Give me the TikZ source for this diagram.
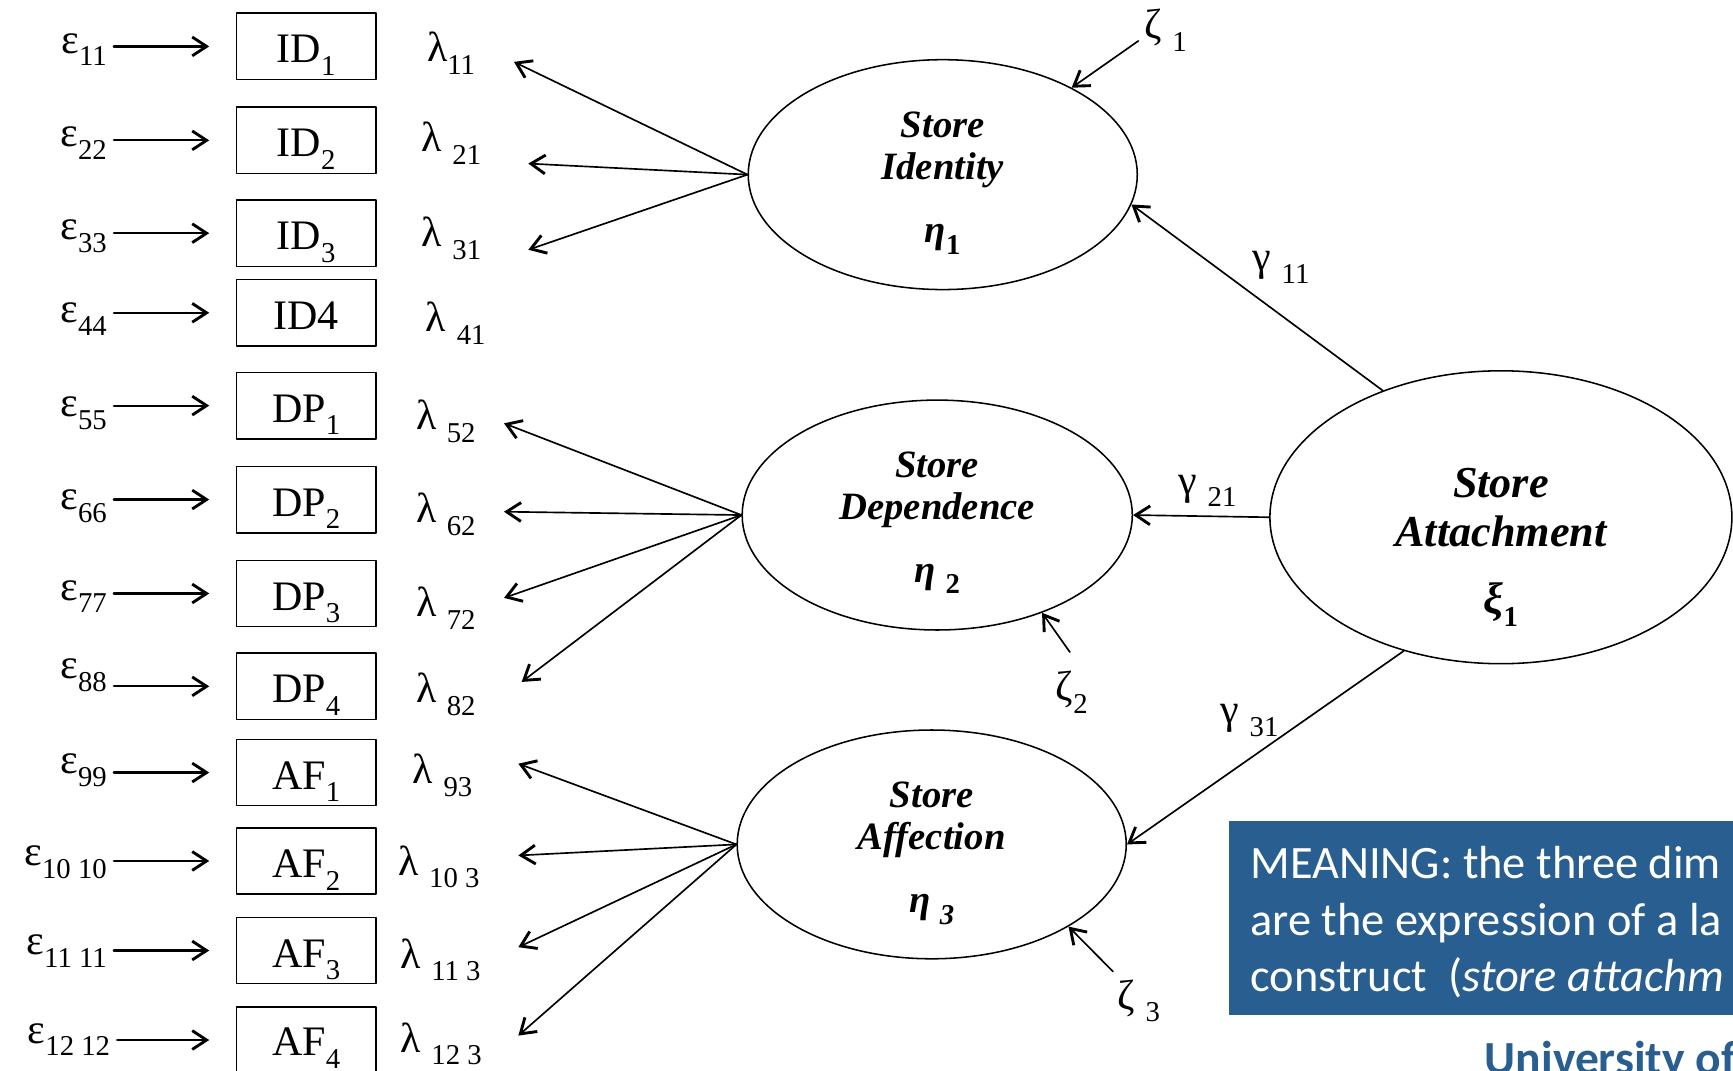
\documentclass[tikz,border=0pt]{standalone}
\usepackage{fontspec}
\setmainfont{Liberation Serif}
\newfontfamily\calibri{Carlito}
\usetikzlibrary{shapes.geometric,arrows.meta}
\definecolor{noteblue}{RGB}{41,94,145}
\newcommand{\lsub}[1]{\raisebox{-0.3em}{\fontsize{13}{13}\selectfont #1}}

\begin{document}
\begin{tikzpicture}[x=0.5pt, y=-0.5pt, line join=round, line cap=round,
      every node/.style={font=\fontsize{19}{21}\selectfont},
      arr/.style={-{Straight Barb[length=6.5pt,width=8.5pt,line width=1.3pt]}, line width=0.75pt},
      errarr/.style={arr, line width=1pt, shorten >=12pt},
      obs/.style={draw, line width=0.7pt, minimum width=63pt, minimum height=30pt, inner sep=0pt, text height=15pt, text depth=0pt},
      lat/.style={draw, ellipse, line width=0.7pt, inner sep=0pt},
      lattext/.style={align=center, inner sep=0pt, font=\bfseries\itshape\fontsize{17.5}{19}\selectfont},
      err/.style={anchor=base east, inner sep=3pt},
      coef/.style={anchor=base west, inner sep=0pt}]
      \useasboundingbox (0,0) rectangle (1568,969);
      \clip (0,0) rectangle (1568,969);
      \fill[white] (0,0) rectangle (1568,969);

      \node[obs] (id1) at (277,42) {ID\lsub{1}};
      \node[obs] (id2) at (277,127) {ID\lsub{2}};
      \node[obs] (id3) at (277,211) {ID\lsub{3}};
      \node[obs] (id4) at (277,283) {ID4};
      \node[obs] (dp1) at (277,367) {DP\lsub{1}};
      \node[obs] (dp2) at (277,452) {DP\lsub{2}};
      \node[obs] (dp3) at (277,537) {DP\lsub{3}};
      \node[obs] (dp4) at (277,621) {DP\lsub{4}};
      \node[obs] (af1) at (277,699) {AF\lsub{1}};
      \node[obs] (af2) at (277,779) {AF\lsub{2}};
      \node[obs] (af3) at (277,860) {AF\lsub{3}};
      \node[obs, text height=14pt] (af4) at (277,941) {AF\lsub{4}};

      \node[err] (e1) at (103,48) {ε\lsub{11}};
      \node[err] (e2) at (103,133) {ε\lsub{22}};
      \node[err] (e3) at (103,217) {ε\lsub{33}};
      \node[err] (e4) at (103,292) {ε\lsub{44}};
      \node[err] (e5) at (103,377) {ε\lsub{55}};
      \node[err] (e6) at (103,461) {ε\lsub{66}};
      \node[err] (e7) at (103,543) {ε\lsub{77}};
      \node[err] (e8) at (103,614) {ε\lsub{88}};
      \node[err] (e9) at (103,700) {ε\lsub{99}};
      \node[err] (e10) at (103,783) {ε\lsub{10 10}};
      \node[err] (e11) at (103,864) {ε\lsub{11 11}};
      \node[err] (e12) at (106,944) {ε\lsub{12 12}};

      \draw[errarr] (e1.east |- id1) -- (id1.west);
      \draw[errarr] (e2.east |- id2) -- (id2.west);
      \draw[errarr] (e3.east |- id3) -- (id3.west);
      \draw[errarr] (e4.east |- id4) -- (id4.west);
      \draw[errarr] (e5.east |- dp1) -- (dp1.west);
      \draw[errarr] (e6.east |- dp2) -- (dp2.west);
      \draw[errarr] (e7.east |- dp3) -- (dp3.west);
      \draw[errarr] (e8.east |- dp4) -- (dp4.west);
      \draw[errarr] (e9.east |- af1) -- (af1.west);
      \draw[errarr] (e10.east |- af2) -- (af2.west);
      \draw[errarr] (e11.east |- af3) -- (af3.west);
      \draw[errarr] (e12.east |- af4) -- (af4.west);

      \node[coef] (l1) at (386,56) {λ\lsub{11}};
      \node[coef] (l2) at (381,137) {λ\ \lsub{21}};
      \node[coef] (l3) at (381,223) {λ\ \lsub{31}};
      \node[coef] (l4) at (385,300) {λ\ \lsub{41}};
      \node[coef] (l5) at (376,389) {λ\ \lsub{52}};
      \node[coef] (l6) at (376,473) {λ\ \lsub{62}};
      \node[coef] (l7) at (376,558) {λ\ \lsub{72}};
      \node[coef] (l8) at (376,636) {λ\ \lsub{82}};
      \node[coef] (l9) at (373,709) {λ\ \lsub{93}};
      \node[coef] (l10) at (360,792) {λ\ \lsub{10 3}};
      \node[coef] (l11) at (362,876) {λ\ \lsub{11 3}};
      \node[coef] (l12) at (362,952) {λ\ \lsub{12 3}};

      \node[lat, minimum width=176pt, minimum height=104pt] (ident) at (853,158) {};
      \node[lat, minimum width=176.5pt, minimum height=104pt] (dep) at (848,466) {};
      \node[lat, minimum width=176pt, minimum height=103.5pt] (aff) at (843,764) {};
      \node[lat, minimum width=209pt, minimum height=132.5pt] (att) at (1358,468) {};

      \node[lattext] (identT) at (853,166) {Store\\Identity\\[9.5pt]η\lsub{\textup{1}}};
      \node[lattext] (depT) at (848,473) {Store\\Dependence\\[9.5pt]η\ \lsub{\textup{2}}};
      \node[lattext] (affT) at (843,772) {Store\\Affection\\[9.5pt]η\ \lsub{3}};
      \node[lattext, font=\bfseries\itshape\fontsize{20}{22.5}\selectfont] (attT) at (1358,495) {Store\\Attachment\\[7.5pt]ξ\lsub{\textup{1}}};

      \coordinate (t1) at (465,56);
      \coordinate (t2) at (478,148);
      \coordinate (t3) at (478,226);
      \coordinate (t5) at (456,383);
      \coordinate (t6) at (456,463);
      \coordinate (t7) at (456,541);
      \coordinate (t8) at (472,617);
      \coordinate (t9) at (469,691);
      \coordinate (t10) at (469,774);
      \coordinate (t11) at (469,857);
      \coordinate (t12) at (469,937);

      \draw[arr] (ident.west) -- (t1);
      \draw[arr] (ident.west) -- (t2);
      \draw[arr] (ident.west) -- (t3);
      \draw[arr] (dep.west) -- (t5);
      \draw[arr] (dep.west) -- (t6);
      \draw[arr] (dep.west) -- (t7);
      \draw[arr] (dep.west) -- (t8);
      \draw[arr] (aff.west) -- (t9);
      \draw[arr] (aff.west) -- (t10);
      \draw[arr] (aff.west) -- (t11);
      \draw[arr] (aff.west) -- (t12);

      \node[coef] (z1) at (1035,35) {ζ\ \lsub{1}};
      \node[coef] (z2) at (955,634) {ζ\lsub{2}};
      \node[coef] (z3) at (1011,913) {ζ\ \lsub{3}};
      \coordinate (z1s) at (1030,37);
      \coordinate (z2s) at (968,590);
      \coordinate (z3s) at (1007,879);
      \draw[arr] (z1s) -- (ident.34);
      \draw[arr] (z2s) -- (dep.-43);
      \draw[arr] (z3s) -- (aff.-31);

      \draw[arr] (att.133) -- (ident.-9);
      \draw[arr] (att.west) -- (dep.east);
      \draw[arr] (att.-126) -- (aff.east);
      \node[coef] (g1) at (1133,245) {γ\ \lsub{11}};
      \node[coef] (g2) at (1066,447) {γ\ \lsub{21}};
      \node[coef] (g3) at (1104,655) {γ\ \lsub{31}};

      \fill[noteblue] (1112,743) rectangle (1575,918);
      \node[anchor=west, inner sep=0pt, align=left, text=white, font=\calibri\fontsize{21}{25.5}\selectfont] (meaning) at (1131,834.5) {MEANING: the three dim\\are the expression of a la\\construct\ \ (\textit{store attachm}};
      \node[anchor=base west, inner sep=0pt, text=noteblue, font=\calibri\bfseries\fontsize{21.5}{26}\selectfont] (univ) at (1343,972) {University of};
    \end{tikzpicture}
\end{document}
